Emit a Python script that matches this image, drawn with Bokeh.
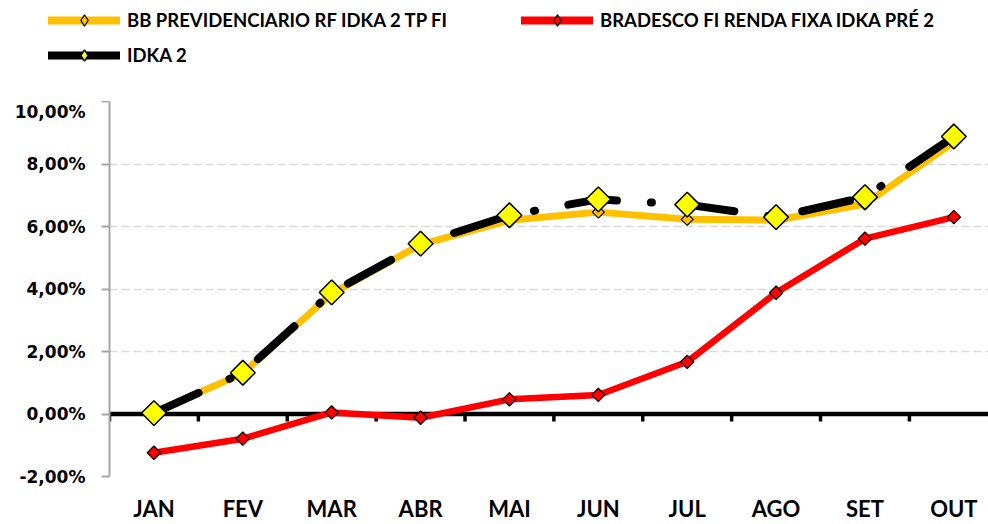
import numpy as np
from bokeh.plotting import figure
from bokeh.layouts import column
from bokeh.models import Range1d, FixedTicker, Legend, LegendItem, Span
from bokeh.embed import file_html
from bokeh.resources import INLINE

months = ["JAN", "FEV", "MAR", "ABR", "MAI", "JUN", "JUL", "AGO", "SET", "OUT"]
bb_prev = [0.05, 1.30, 3.85, 5.42, 6.20, 6.46, 6.23, 6.20, 6.72, 8.70]
bradesco = [-1.24, -0.79, 0.05, -0.12, 0.47, 0.61, 1.67, 3.88, 5.61, 6.30]
idka2 = [0.03, 1.32, 3.89, 5.45, 6.36, 6.87, 6.70, 6.30, 6.94, 8.88]
y_ticks = [-2, 0, 2, 4, 6, 8, 10]
y_tick_labels = ["-2,00%", "0,00%", "2,00%", "4,00%", "6,00%", "8,00%", "10,00%"]
series_names = ["BB PREVIDENCIARIO RF IDKA 2 TP FI", "BRADESCO FI RENDA FIXA IDKA PRÉ 2", "IDKA 2"]

ORANGE, RED, BLACK, YELLOW = "#FFC000", "#FF0000", "#000000", "#FFFF00"
x = np.arange(len(months))
series = [bb_prev, bradesco, idka2]

# ---------------- main chart ----------------
p = figure(width=988, height=423, output_backend="svg", toolbar_location=None,
           x_range=Range1d(-0.5, 9.39), y_range=Range1d(-2, 10),
           min_border_left=109, min_border_right=0, min_border_top=0, min_border_bottom=47)
p.outline_line_color = None

p.xaxis.ticker = FixedTicker(ticks=list(x))
p.xaxis.major_label_overrides = {int(i): m for i, m in zip(x, months)}
p.xaxis.axis_line_color = None
p.xaxis.major_tick_line_color = None
p.xaxis.major_tick_out = 0
p.xaxis.major_tick_in = 0
p.xaxis.minor_tick_line_color = None
p.xaxis.major_label_standoff = 18
p.xaxis.major_label_text_font = "Lato"
p.xaxis.major_label_text_font_style = "bold"
p.xaxis.major_label_text_font_size = "22px"
p.xaxis.major_label_text_color = "black"

p.yaxis.ticker = FixedTicker(ticks=y_ticks)
p.yaxis.major_label_overrides = {t: l for t, l in zip(y_ticks, y_tick_labels)}
p.yaxis.axis_line_color = "#a6a6a6"
p.yaxis.axis_line_width = 2
p.yaxis.major_tick_line_color = "#a6a6a6"
p.yaxis.major_tick_line_width = 2
p.yaxis.major_tick_out = 8
p.yaxis.major_tick_in = 0
p.yaxis.minor_tick_line_color = None
p.yaxis.major_label_standoff = 16
p.yaxis.major_label_text_font = "DejaVu Sans"
p.yaxis.major_label_text_font_style = "bold"
p.yaxis.major_label_text_font_size = "17px"
p.yaxis.major_label_text_color = "black"

p.xgrid.visible = False
p.ygrid.ticker = FixedTicker(ticks=y_ticks)
p.ygrid.grid_line_color = "#d9d9d9"
p.ygrid.grid_line_dash = "8 4"
p.ygrid.grid_line_width = 1.5

p.add_layout(Span(location=0, dimension="width", line_color="black", line_width=4.5, level="underlay"))
bnd = np.arange(len(months) + 1) - 0.5
p.segment(x0=bnd, y0=np.zeros_like(bnd), x1=bnd, y1=np.full_like(bnd, -0.24),
          line_color="black", line_width=3.5)

line_styles = [
    dict(line_color=ORANGE, line_width=7, line_join="round", line_cap="round"),
    dict(line_color=RED, line_width=6.5, line_join="round", line_cap="round"),
    dict(line_color=BLACK, line_width=8, line_dash="49 34 1 34", line_join="round", line_cap="round"),
]
marker_styles = [
    dict(fill_color=ORANGE, line_color="black", line_width=1.2),
    dict(fill_color=RED, line_color="black", line_width=1.2),
    dict(fill_color=YELLOW, line_color="black", line_width=1.5),
]
marker_sizes = [8.5, 9.5, 17.5]

for vals, ls in zip(series, line_styles):
    p.line(x, vals, **ls)
for vals, ms, sz in zip(series, marker_styles, marker_sizes):
    p.scatter(x, vals, marker="square", angle=np.pi / 4, size=sz, **ms)

# ---------------- legend strip ----------------
# the series are plotted here outside the visible range; only the legend shows
lf = figure(width=988, height=101, output_backend="svg", toolbar_location=None,
            x_axis_type=None, y_axis_type=None,
            x_range=Range1d(len(months) + 10, len(months) + 11), y_range=Range1d(0, 1),
            min_border=0)
lf.frame_align = False
lf.outline_line_color = None
lf.grid.visible = False

leg_items = []
for name, vals, ls, ms in zip(series_names, series, line_styles, marker_styles):
    lr = lf.line(x, vals, **{k: (8 if k == "line_width" else v) for k, v in ls.items() if k != "line_dash"})
    sr = lf.scatter(x, vals, marker="diamond", **ms)
    leg_items.append(LegendItem(label=name, renderers=[lr, sr]))

common = dict(orientation="vertical", spacing=7, glyph_width=72, glyph_height=28,
              label_height=20, label_standoff=7, padding=0, margin=0,
              border_line_color=None, background_fill_alpha=0,
              label_text_font="Lato", label_text_font_style="bold",
              label_text_font_size="18.5px", label_text_color="black")
legA = Legend(items=[leg_items[0], leg_items[2]], location=(48, 32), **common)
legB = Legend(items=[leg_items[1]], location=(521, 67), **common)
lf.add_layout(legA)
lf.add_layout(legB)

layout = column(lf, p, spacing=0)
open("out.html", "w").write(file_html(layout, INLINE))
